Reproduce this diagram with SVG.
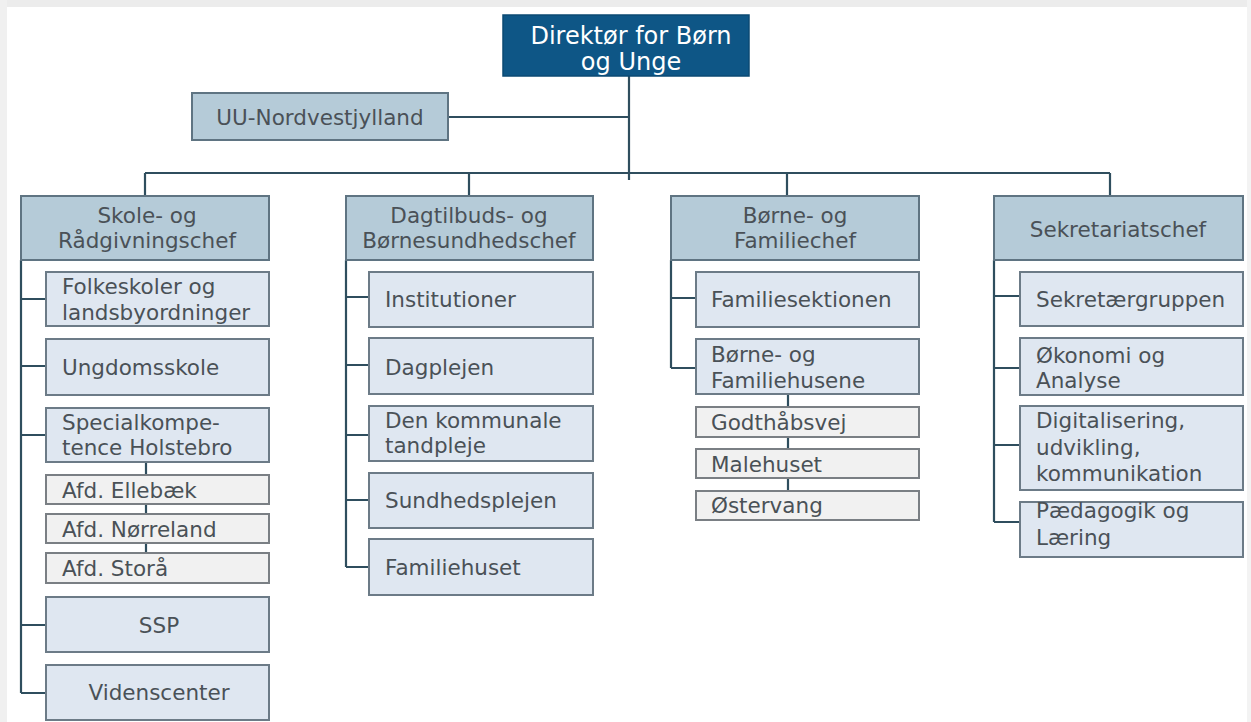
<svg xmlns="http://www.w3.org/2000/svg" width="1251" height="722" viewBox="0 0 1251 722">
<style>
text{font-family:"DejaVu Sans",Verdana,sans-serif;fill:#4a5157;font-size:21.5px}
.c{text-anchor:middle}
.dir{fill:#0e5686;stroke:#0b4a73;stroke-width:1.5}
.dirt{fill:#ffffff;font-size:24px}
.hd{fill:#b5cbd8;stroke:#5f7482;stroke-width:2}
.ch{fill:#dfe7f1;stroke:#6c7b87;stroke-width:2}
.sb{fill:#f1f1f1;stroke:#7a7f84;stroke-width:2}
.ln{fill:none;stroke:#2f4e5e;stroke-width:2.2}
</style>
<rect x="0" y="0" width="1251" height="722" fill="#ffffff"/>
<rect x="0" y="0" width="1251" height="7" fill="#ececec"/>
<rect x="0" y="0" width="7" height="722" fill="#f0f0f0"/>
<rect x="1247" y="0" width="4" height="722" fill="#f3f3f3"/>

<g id="connectors" class="ln">
<path d="M629 76V180M448 117H629M145 173H1110M145 173V196M469 173V196M787 173V196M1110 173V196"/>
<path d="M21 260V693M21 299H46M21 366H46M21 435H46M21 625H46M21 693H46M146 462V475M146 504V514M146 543V553"/>
<path d="M346 260V567M346 297H369M346 365H369M346 435H369M346 500H369M346 567H369"/>
<path d="M671 260V368M671 298H696M671 368H696M788 394V407M788 437V449M788 478V491"/>
<path d="M994 260V522M994 296H1020M994 368H1020M994 445H1020M994 522H1020"/>
</g>

<g id="director"><rect class="dir" x="503" y="15" width="246" height="61"/><text class="dirt c" x="631" y="44">Direktør for Børn</text><text class="dirt c" x="631" y="70">og Unge</text></g>
<g id="uu"><rect class="hd" x="192" y="93" width="256" height="47"/><text class="c" x="320" y="125">UU-Nordvestjylland</text></g>

<g id="skole"><rect class="hd" x="21" y="196" width="248" height="64"/><text class="c" x="147" y="223">Skole- og</text><text class="c" x="147" y="248">Rådgivningschef</text></g>
<g id="dagtilbud"><rect class="hd" x="346" y="196" width="247" height="64"/><text class="c" x="469" y="223">Dagtilbuds- og</text><text class="c" x="469" y="248">Børnesundhedschef</text></g>
<g id="familie"><rect class="hd" x="671" y="196" width="248" height="64"/><text class="c" x="795" y="223">Børne- og</text><text class="c" x="795" y="248">Familiechef</text></g>
<g id="sekretariat"><rect class="hd" x="994" y="196" width="249" height="64"/><text class="c" x="1118" y="237">Sekretariatschef</text></g>

<g id="folkeskoler"><rect class="ch" x="46" y="272" width="223" height="54"/><text x="62" y="294">Folkeskoler og</text><text x="62" y="320">landsbyordninger</text></g>
<g id="ungdomsskole"><rect class="ch" x="46" y="339" width="223" height="56"/><text x="62" y="375">Ungdomsskole</text></g>
<g id="specialkompetence"><rect class="ch" x="46" y="408" width="223" height="54"/><text x="62" y="430">Specialkompe-</text><text x="62" y="455">tence Holstebro</text></g>
<g id="ellebaek"><rect class="sb" x="46" y="475" width="223" height="29"/><text x="62" y="498">Afd. Ellebæk</text></g>
<g id="norreland"><rect class="sb" x="46" y="514" width="223" height="29"/><text x="62" y="537">Afd. Nørreland</text></g>
<g id="stora"><rect class="sb" x="46" y="553" width="223" height="30"/><text x="62" y="576">Afd. Storå</text></g>
<g id="ssp"><rect class="ch" x="46" y="597" width="223" height="55"/><text class="c" x="159" y="633">SSP</text></g>
<g id="videnscenter"><rect class="ch" x="46" y="665" width="223" height="55"/><text class="c" x="159" y="700">Videnscenter</text></g>

<g id="institutioner"><rect class="ch" x="369" y="272" width="224" height="55"/><text x="385" y="307">Institutioner</text></g>
<g id="dagplejen"><rect class="ch" x="369" y="338" width="224" height="56"/><text x="385" y="375">Dagplejen</text></g>
<g id="tandpleje"><rect class="ch" x="369" y="406" width="224" height="55"/><text x="385" y="428">Den kommunale</text><text x="385" y="453">tandpleje</text></g>
<g id="sundhedsplejen"><rect class="ch" x="369" y="473" width="224" height="55"/><text x="385" y="508">Sundhedsplejen</text></g>
<g id="familiehuset"><rect class="ch" x="369" y="539" width="224" height="56"/><text x="385" y="575">Familiehuset</text></g>

<g id="familiesektionen"><rect class="ch" x="696" y="272" width="223" height="55"/><text x="711" y="307">Familiesektionen</text></g>
<g id="familiehusene"><rect class="ch" x="696" y="339" width="223" height="55"/><text x="711" y="362">Børne- og</text><text x="711" y="388">Familiehusene</text></g>
<g id="godthaabsvej"><rect class="sb" x="696" y="407" width="223" height="30"/><text x="711" y="430">Godthåbsvej</text></g>
<g id="malehuset"><rect class="sb" x="696" y="449" width="223" height="29"/><text x="711" y="472">Malehuset</text></g>
<g id="ostervang"><rect class="sb" x="696" y="491" width="223" height="29"/><text x="711" y="513">Østervang</text></g>

<g id="sekretaergruppen"><rect class="ch" x="1020" y="272" width="223" height="54"/><text x="1036" y="307">Sekretærgruppen</text></g>
<g id="okonomi"><rect class="ch" x="1020" y="338" width="223" height="57"/><text x="1036" y="363">Økonomi og</text><text x="1036" y="388">Analyse</text></g>
<g id="digitalisering"><rect class="ch" x="1020" y="406" width="223" height="84"/><text x="1036" y="428">Digitalisering,</text><text x="1036" y="455">udvikling,</text><text x="1036" y="481">kommunikation</text></g>
<g id="paedagogik"><rect class="ch" x="1020" y="502" width="223" height="55"/><text x="1036" y="518">Pædagogik og</text><text x="1036" y="545">Læring</text></g>
</svg>
